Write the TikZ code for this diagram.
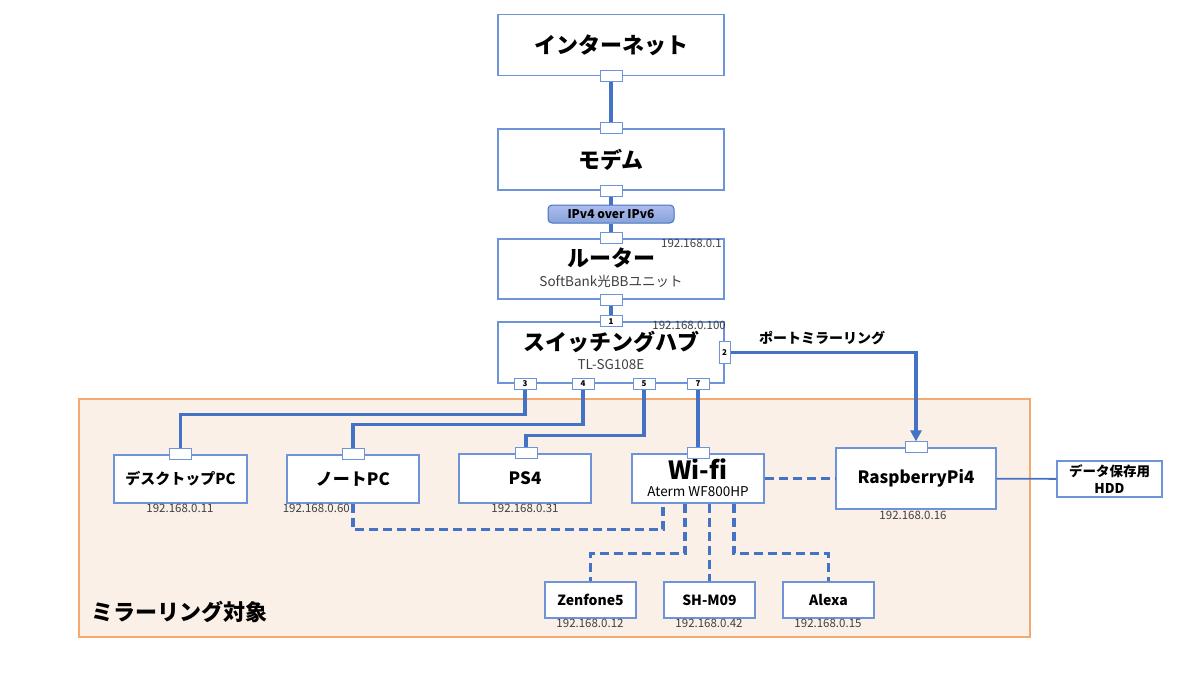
\documentclass[tikz,border=0pt]{standalone}
\usepackage{fontspec}
\setmainfont{Noto Sans CJK JP}
\usetikzlibrary{arrows.meta}
\definecolor{boxblue}{HTML}{6F93D8}
\definecolor{lineblue}{HTML}{4472C4}
\definecolor{areafill}{HTML}{FBF0E8}
\definecolor{areadraw}{HTML}{F4A970}
\definecolor{ipgray}{HTML}{404040}
\tikzset{
	box/.style={draw=boxblue, line width=1.2pt, fill=white, inner sep=0pt}, % device boxes
	port/.style={draw=boxblue, line width=1pt, fill=white, minimum width=22pt, minimum height=11pt,
		inner sep=0pt, font=\bfseries\fontsize{8}{8}\selectfont}, % small port squares
	cable/.style={draw=lineblue, line width=3.4pt}, % wired links
	wlan/.style={draw=lineblue, line width=3.4pt, dash pattern=on 9pt off 5pt}, % wireless links
	title/.style={font=\bfseries\fontsize{22}{24}\selectfont}, % big box titles
	dev/.style={font=\bfseries\fontsize{17}{19}\selectfont}, % device names
	small/.style={font=\bfseries\fontsize{14}{16}\selectfont}, % phone names
	sub/.style={font=\fontsize{13.5}{15}\selectfont, text=ipgray}, % model names
	ip/.style={font=\fontsize{11.5}{13}\selectfont, text=ipgray, inner sep=1pt}, % addresses
}
\begin{document}
\begin{tikzpicture}[x=1pt, y=-1pt]
	\useasboundingbox (0,0) rectangle (1200,675);
	% mirroring area
	\draw[areadraw, fill=areafill, line width=1.2pt] (79,399) rectangle (1030,637);
	\node[title, anchor=west] (areaT) at (88,612) {ミラーリング対象};

	% upstream
	\node[box, minimum width=226pt, minimum height=61pt, title] (inet) at (611,45) {インターネット};
	\node[box, minimum width=226pt, minimum height=61pt, title] (modem) at (611,159.5) {モデム};
	\node[draw=lineblue, line width=1pt, rounded corners=4pt, top color=blue!25!lineblue!40, bottom color=lineblue!65,
		minimum width=126pt, minimum height=18pt, inner sep=0pt, font=\bfseries\fontsize{12}{13}\selectfont]
		(v6) at (611,214) {IPv4 over IPv6};
	\node[box, minimum width=226pt, minimum height=60pt] (router) at (611,269) {};
	\node[title] (routerT) at (611,258) {ルーター};
	\node[sub] (routerS) at (611,281) {SoftBank光BBユニット};
	\node[ip, anchor=north east] (routerI) at (723,238) {192.168.0.1};
	\node[box, minimum width=226pt, minimum height=61pt] (sw) at (611,352.5) {};
	\node[title] (swT) at (611,342) {スイッチングハブ};
	\node[sub] (swS) at (611,365) {TL-SG108E};
	\node[ip, anchor=north east] (swI) at (727,320) {192.168.0.100};

	% ports
	\node[port] (inetP) at (inet.south) {};
	\node[port] (modemA) at (modem.north) {};
	\node[port] (modemB) at (modem.south) {};
	\node[port] (routerA) at (router.north) {};
	\node[port] (routerB) at (router.south) {};
	\node[port] (p1) at (sw.north) {1};
	\node[port, minimum width=11pt, minimum height=22pt] (p2) at (sw.east) {2};
	\node[port] (p3) at ([xshift=-86pt]sw.south) {3};
	\node[port] (p4) at ([xshift=-28pt]sw.south) {4};
	\node[port] (p5) at ([xshift=33pt]sw.south) {5};
	\node[port] (p7) at ([xshift=87pt]sw.south) {7};

	% devices
	\node[box, minimum width=133pt, minimum height=48pt, font=\bfseries\fontsize{15}{17}\selectfont] (desk) at (180.5,479) {デスクトップPC};
	\node[box, minimum width=132pt, minimum height=48pt, dev] (note) at (353,479) {ノートPC};
	\node[box, minimum width=132pt, minimum height=49pt, dev] (ps4) at (525,478.5) {PS4};
	\node[box, minimum width=132pt, minimum height=49pt] (wifi) at (698,478.5) {};
	\node[font=\bfseries\fontsize{25}{27}\selectfont] (wifiT) at (698,469) {Wi-fi};
	\node[sub, text=black] (wifiS) at (698,492) {Aterm WF800HP};
	\node[box, minimum width=160pt, minimum height=61pt, dev] (rpi) at (916,478.5) {RaspberryPi4};
	\node[box, minimum width=105pt, minimum height=36pt, align=center, font=\bfseries\fontsize{13.5}{17}\selectfont]
		(hdd) at (1109.5,479) {データ保存用\\HDD};
	\node[box, minimum width=91pt, minimum height=36pt, small] (zen) at (590.5,600) {Zenfone5};
	\node[box, minimum width=91pt, minimum height=36pt, small] (shm) at (709.5,600) {SH-M09};
	\node[box, minimum width=91pt, minimum height=36pt, small] (alexa) at (828.5,600) {Alexa};

	\node[port] (deskP) at (desk.north) {};
	\node[port] (noteP) at (note.north) {};
	\node[port] (ps4P) at ([xshift=1pt]ps4.north) {};
	\node[port] (wifiP) at (wifi.north) {};
	\node[port] (rpiP) at (rpi.north) {};

	% addresses
	\node[ip, anchor=north] (deskI) at (180,503) {192.168.0.11};
	\node[ip, anchor=north east] (noteI) at (351,503) {192.168.0.60};
	\node[ip, anchor=north] (ps4I) at (525,503) {192.168.0.31};
	\node[ip, anchor=north] (rpiI) at (913,510) {192.168.0.16};
	\node[ip, anchor=north] (zenI) at (590,618) {192.168.0.12};
	\node[ip, anchor=north] (shmI) at (709,618) {192.168.0.42};
	\node[ip, anchor=north] (alexaI) at (828,618) {192.168.0.15};

	% wired
	\draw[cable] (inetP) -- (modemA);
	\draw[cable] (modemB) -- (v6);
	\draw[cable] (v6) -- (routerA);
	\draw[cable] (routerB) -- (p1);
	\draw[cable] (p3) -- ++(0,31) -| (deskP);
	\draw[cable] (p4) -- ++(0,41) -| (noteP);
	\draw[cable] (p5) -- ++(0,52) -| (ps4P);
	\draw[cable] (p7) -- (wifiP);
	\draw[cable, -{Triangle[length=11pt, width=11pt]}] (p2) -| (rpiP);
	\node[font=\bfseries\fontsize{14}{16}\selectfont, anchor=south] (mirrorL) at (822,348) {ポートミラーリング};
	\draw[lineblue, line width=1.8pt] (rpi) -- (hdd);

	% wireless
	\draw[wlan] (wifi) -- (rpi);
	\draw[wlan] (note.south) -- ++(0,26) -| ([xshift=-35pt]wifi.south);
	\draw[wlan] ([xshift=-13pt]wifi.south) -- ++(0,50) -| (zen);
	\draw[wlan] (shm.north |- wifi.south) -- (shm);
	\draw[wlan] ([xshift=36pt]wifi.south) -- ++(0,50) -| (alexa);
\end{tikzpicture}
\end{document}
